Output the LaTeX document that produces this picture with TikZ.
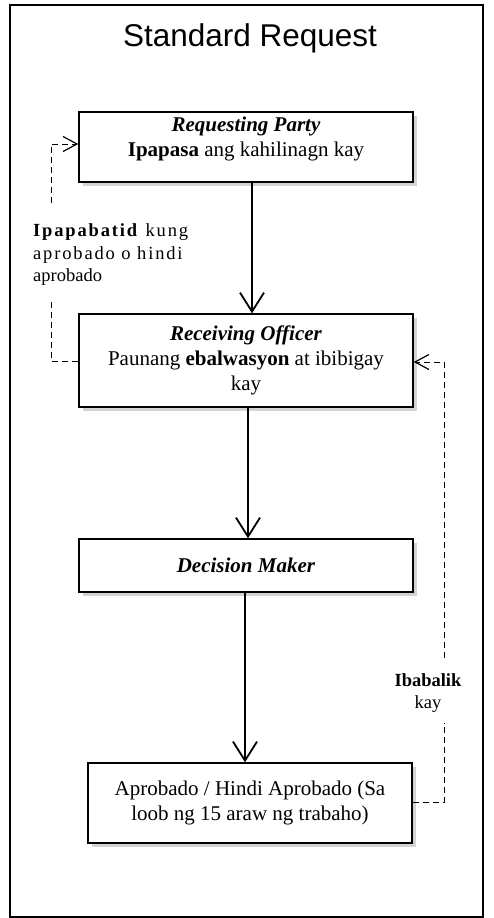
\documentclass[tikz,border=0pt]{standalone}
\usepackage{fontspec}
\setmainfont{Liberation Serif}
\newfontfamily\titlefont{Liberation Sans}
\newfontfamily\spacedfont[LetterSpace=10]{Liberation Serif}
\usetikzlibrary{arrows.meta, shadows}

\tikzset{
  stepbox/.style={draw, line width=1.4pt, fill=white, minimum width=334pt,
    align=center, font=\fontsize{21}{25}\selectfont,
    drop shadow={shadow xshift=4pt, shadow yshift=-4pt, opacity=0.35}},
  flow/.style={line width=1.8pt, -{Straight Barb[length=19pt,width=24pt]}},
  back/.style={line width=1pt, dash pattern=on 6pt off 4pt},
  backarrow/.style={back, -{Straight Barb[length=14pt,width=15pt,line width=1.2pt]}},
  notetext/.style={font=\fontsize{18.5}{22.5}\selectfont, inner sep=0pt}
}

\begin{document}
\begin{tikzpicture}[x=1pt, y=-1pt]
        \useasboundingbox (0,0) rectangle (493,918);
        \draw[line width=1.5pt] (10,5) rectangle (483,917); % outer frame
        \node[anchor=base, font=\titlefont\fontsize{31.5}{38}\selectfont] (title) at (250,46) {Standard Request};

        % Process boxes
        \node[stepbox, minimum height=70pt, text depth=20pt] (req) at (246,147)
            {\textbf{\textit{Requesting Party}}\\\textbf{Ipapasa} ang kahilinagn kay};
        \node[stepbox, minimum height=93pt] (recv) at (246,360.5)
            {\textbf{\textit{Receiving Officer}}\\Paunang \textbf{ebalwasyon} at ibibigay\\kay};
        \node[stepbox, minimum height=53pt] (dec) at (246,565.5)
            {\textbf{\textit{Decision Maker}}};
        \node[stepbox, minimum width=324pt, minimum height=80pt] (done) at (250,803)
            {Aprobado / Hindi Aprobado (Sa\\loob ng 15 araw ng trabaho)};

        % Main flow
        \draw[flow] ([xshift=6pt]req.south) -- ([xshift=6pt]recv.north);
        \draw[flow] ([xshift=2pt]recv.south) -- ([xshift=2pt]dec.north);
        \draw[flow] ([xshift=-1pt]dec.south) -- ([xshift=-5pt]done.north);

        % Notice back to requesting party
        \node[notetext, anchor=west, align=left] (notice) at (33,255)
            {{\spacedfont\textbf{Ipapabatid} kung}\\{\spacedfont aprobado o hindi}\\aprobado};
        \coordinate (n1) at (51,361);
        \coordinate (n2) at (51,300);
        \coordinate (n3) at (51,203);
        \coordinate (n4) at (51,144);
        \draw[back] (recv.west |- n1) -- (n1) -- (n2);
        \draw[backarrow] (n3) -- (n4) -- (n4 -| req.west);

        % Return to receiving officer
        \node[notetext, align=center] (ret) at (428,693) {\textbf{Ibabalik}\\kay};
        \coordinate (r1) at (444,802);
        \coordinate (r2) at (444,723);
        \coordinate (r3) at (444,658);
        \coordinate (r4) at (444,362);
        \draw[back] (done.east |- r1) -- (r1) -- (r2);
        \draw[backarrow] (r3) -- (r4) -- (r4 -| recv.east);
    \end{tikzpicture}
\end{document}
